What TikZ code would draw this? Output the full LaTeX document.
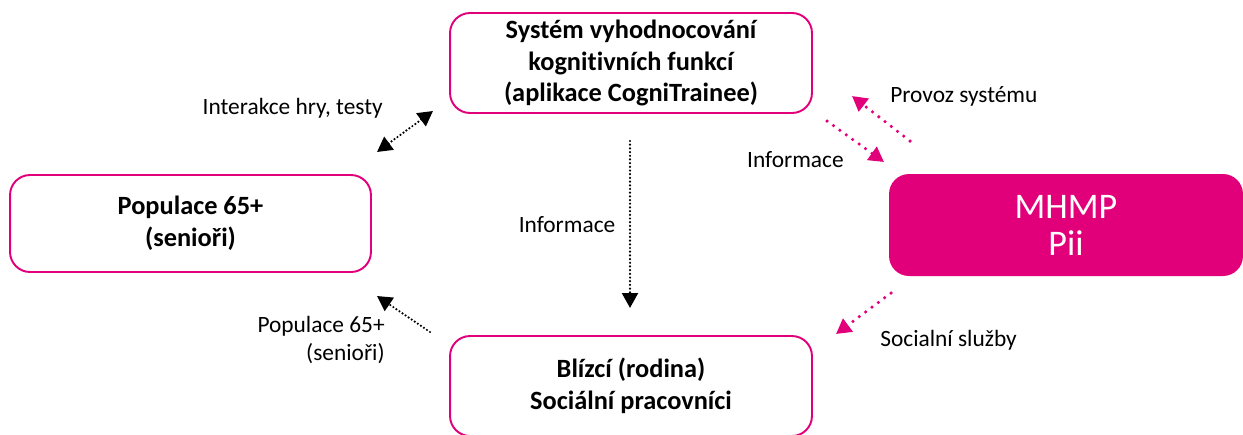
\documentclass[tikz,border=0pt]{standalone}
\usepackage{fontspec}
\setmainfont{Carlito}[Ligatures=NoCommon]
\usetikzlibrary{arrows.meta}

\definecolor{pii}{HTML}{E2007A}

\begin{document}
\begin{tikzpicture}[
  x=0.02cm, y=-0.02cm,
  box/.style={draw=pii, line width=1.1pt, rounded corners=0.4cm, align=center,
    font=\fontsize{15}{18.2}\selectfont\bfseries},
  mhmpbox/.style={fill=pii, rounded corners=0.4cm, align=center, text=white,
    font=\fontsize{20.5}{21}\selectfont},
  lbl/.style={font=\fontsize{13.3}{16}\selectfont, inner sep=0pt},
  blk/.style={line width=1.4pt, line cap=round, dash pattern=on 0pt off 2.1pt,
    -{Triangle[length=8.5pt, width=9pt]}},
  pnk/.style={pii, line width=2pt, line cap=round, dash pattern=on 0pt off 4.5pt,
    -{Triangle[length=8.5pt, width=9pt]}},
]
\useasboundingbox (0,0) rectangle (1243,434);

% boxes
\node [box, minimum width=7.24cm, minimum height=2cm] (sys) at (631,63)
  {Systém vyhodnocování\\kognitivních funkcí\\(aplikace CogniTrainee)};
\node [box, minimum width=7.22cm, minimum height=1.94cm] (pop) at (190.5,223.5)
  {Populace 65+\\(senioři)};
\node [box, minimum width=7.24cm, minimum height=2cm] (blizci) at (631,386)
  {Blízcí (rodina)\\Sociální pracovníci};
\node [mhmpbox, minimum width=7.08cm, minimum height=2.04cm] (mhmp) at (1066,225)
  {MHMP\\Pii};

% labels
\node [lbl, anchor=east] (lhra) at (383,108) {Interakce hry, testy};
\node [lbl] (linfo) at (567,225) {Informace};
\node [lbl, anchor=east, align=right] (lpop) at (385,340) {Populace 65+\\(senioři)};
\node [lbl, anchor=west] (lprovoz) at (890,96) {Provoz systému};
\node [lbl, anchor=east] (linfo2) at (844,160) {Informace};
\node [lbl, anchor=west] (lsoc) at (880,340) {Socialní služby};

% arrow ends
\coordinate (hraA) at (377,152);
\coordinate (hraB) at (433,111);
\coordinate (infA) at (630,141);
\coordinate (infB) at (630,308);
\coordinate (popA) at (430,332);
\coordinate (popB) at (377,296);
\coordinate (provA) at (910,141);
\coordinate (provB) at (852,96);
\coordinate (inf2A) at (827,121);
\coordinate (inf2B) at (884,162);
\coordinate (socA) at (891,293);
\coordinate (socB) at (836,334);

\draw [blk, {Triangle[length=8.5pt, width=9pt]}-{Triangle[length=8.5pt, width=9pt]}] (hraA) -- (hraB);
\draw [blk] (infA) -- (infB);
\draw [blk] (popA) -- (popB);

\draw [pnk] (provA) -- (provB);
\draw [pnk] (inf2A) -- (inf2B);
\draw [pnk] (socA) -- (socB);

\end{tikzpicture}
\end{document}
